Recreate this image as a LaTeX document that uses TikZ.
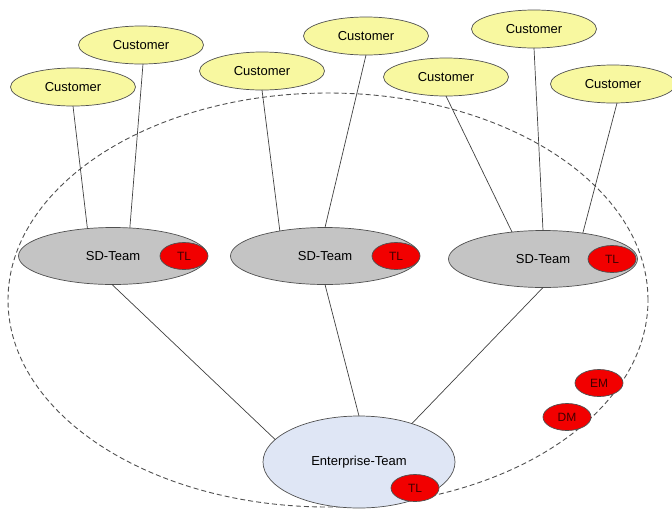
\documentclass[tikz,border=0pt]{standalone}
\usepackage{fontspec}
\setmainfont{Liberation Sans}
\usetikzlibrary{shapes.geometric}
\definecolor{custfill}{HTML}{F8F8A0}
\definecolor{teamfill}{HTML}{C4C4C4}
\definecolor{entfill}{HTML}{DFE6F5}
\definecolor{rolefill}{HTML}{F20000}
\definecolor{edgecol}{HTML}{404040}
\definecolor{rimcol}{HTML}{505050}
\tikzset{
  every node/.style={ellipse, inner sep=0pt, outer sep=0pt, draw=rimcol, line width=0.7pt},
  customer/.style={fill=custfill, minimum width=125pt, minimum height=38pt, font=\fontsize{13}{15}\selectfont},
  sdteam/.style={fill=teamfill, minimum width=189pt, minimum height=57pt, font=\fontsize{13}{15}\selectfont},
  entteam/.style={fill=entfill, minimum width=192pt, minimum height=92pt, font=\fontsize{13}{15}\selectfont},
  role/.style={fill=rolefill, minimum width=48pt, minimum height=27pt, text=black!75!red, font=\fontsize{12}{14}\selectfont},
  link/.style={draw=edgecol, line width=0.7pt},
  boundary/.style={draw=rimcol, line width=0.9pt, dash pattern=on 5pt off 3pt}
}
\begin{document}
\begin{tikzpicture}[x=1pt, y=-1pt]
\useasboundingbox (0,0) rectangle (672,509);

% organisation boundary
\draw[boundary] (328,300) ellipse [x radius=320pt, y radius=207pt];

% teams
\node[sdteam] (s1) at (113,256) {SD-Team};
\node[sdteam] (s2) at (325,256) {SD-Team};
\node[sdteam] (s3) at (543,259) {SD-Team};
\node[entteam] (ent) at (359,462) {Enterprise-Team};

% customers
\node[customer] (c1) at (73,87) {Customer};
\node[customer] (c2) at (141,45) {Customer};
\node[customer] (c3) at (262,71) {Customer};
\node[customer] (c4) at (366,36) {Customer};
\node[customer] (c5) at (446,77) {Customer};
\node[customer] (c6) at (534,29) {Customer};
\node[customer] (c7) at (613,84) {Customer};

% connections
\draw[link] (c1.270) -- (s1.133);
\draw[link] (c2.276) -- (s1.59);
\draw[link] (c3.270) -- (s2.151);
\draw[link] (c4.270) -- (s2.90);
\draw[link] (c5.270) -- (s3.139);
\draw[link] (c6.270) -- (s3.90);
\draw[link] (c7.282) -- (s3.33);
\draw[link] (s1.268) -- (ent.165);
\draw[link] (s2.270) -- (ent.90);
\draw[link] (s3.270) -- (ent.36);

% roles
\node[role] (tl1) at (184,256) {TL};
\node[role] (tl2) at (396,256) {TL};
\node[role] (tl3) at (612,259) {TL};
\node[role] (tl4) at (415,488) {TL};
\node[role] (em) at (599,383) {EM};
\node[role] (dm) at (567,417) {DM};
\end{tikzpicture}
\end{document}
